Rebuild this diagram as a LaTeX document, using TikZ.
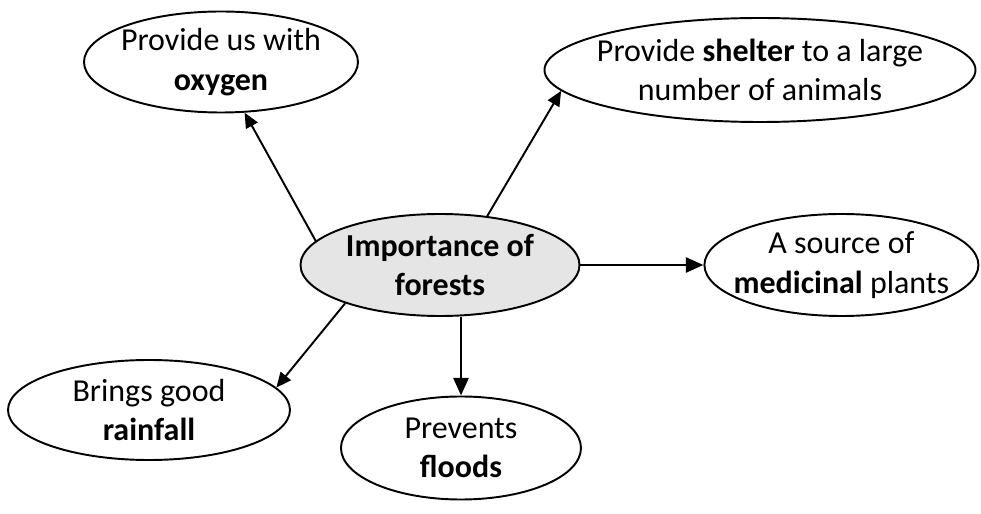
\documentclass[tikz,border=0pt]{standalone}
\usepackage{fontspec}
\setmainfont{Carlito}
\usepackage{tikz}
\usetikzlibrary{arrows.meta,positioning,shapes.geometric}

\begin{document}
\begin{tikzpicture}[
  bub/.style={ellipse,draw,line width=1.1pt,inner sep=-1cm,align=center,
              font=\fontsize{18.2}{22.4}\selectfont},
  arr/.style={-{Triangle[length=8.5pt,width=7.5pt]},line width=1.1pt},
  thk/.style={-{Triangle[length=10pt,width=8.5pt]},line width=1.6pt}
]
\useasboundingbox (-8.8,-4.98) rectangle (10.82,5.30);

% hub
\node[bub,fill=black!10,minimum width=5.58cm,minimum height=2.04cm] (ctr)
     {\textbf{Importance of}\\\textbf{forests}};

% benefits around it
\node[bub,minimum width=5.48cm,minimum height=2.02cm] (oxy) at (-4.38,4.06)
     {Provide us with\\\textbf{oxygen}};
\node[bub,minimum width=8.62cm,minimum height=2.08cm] (shel) at (6.40,3.90)
     {Provide \textbf{shelter} to a large\\number of animals};
\node[bub,minimum width=5.48cm,minimum height=2.04cm,right=2.46cm of ctr] (med)
     {A source of\\\textbf{medicinal} plants};
\node[bub,minimum width=5.64cm,minimum height=2.00cm] (rain) at (-5.82,-2.90)
     {Brings good\\\textbf{rainfall}};
\node[bub,minimum width=4.80cm,minimum height=2.06cm] (fl) at (0.42,-3.66)
     {Prevents\\\textbf{floods}};

\draw[arr] (ctr.169) -- (oxy.295);
\draw[arr] (ctr.46)  -- (shel.186);
\draw[thk] (ctr)     -- (med);
\draw[arr] (ctr.202) -- (rain.10);
\draw[thk] (ctr.south -| fl.north) -- (fl.north);
\end{tikzpicture}
\end{document}
